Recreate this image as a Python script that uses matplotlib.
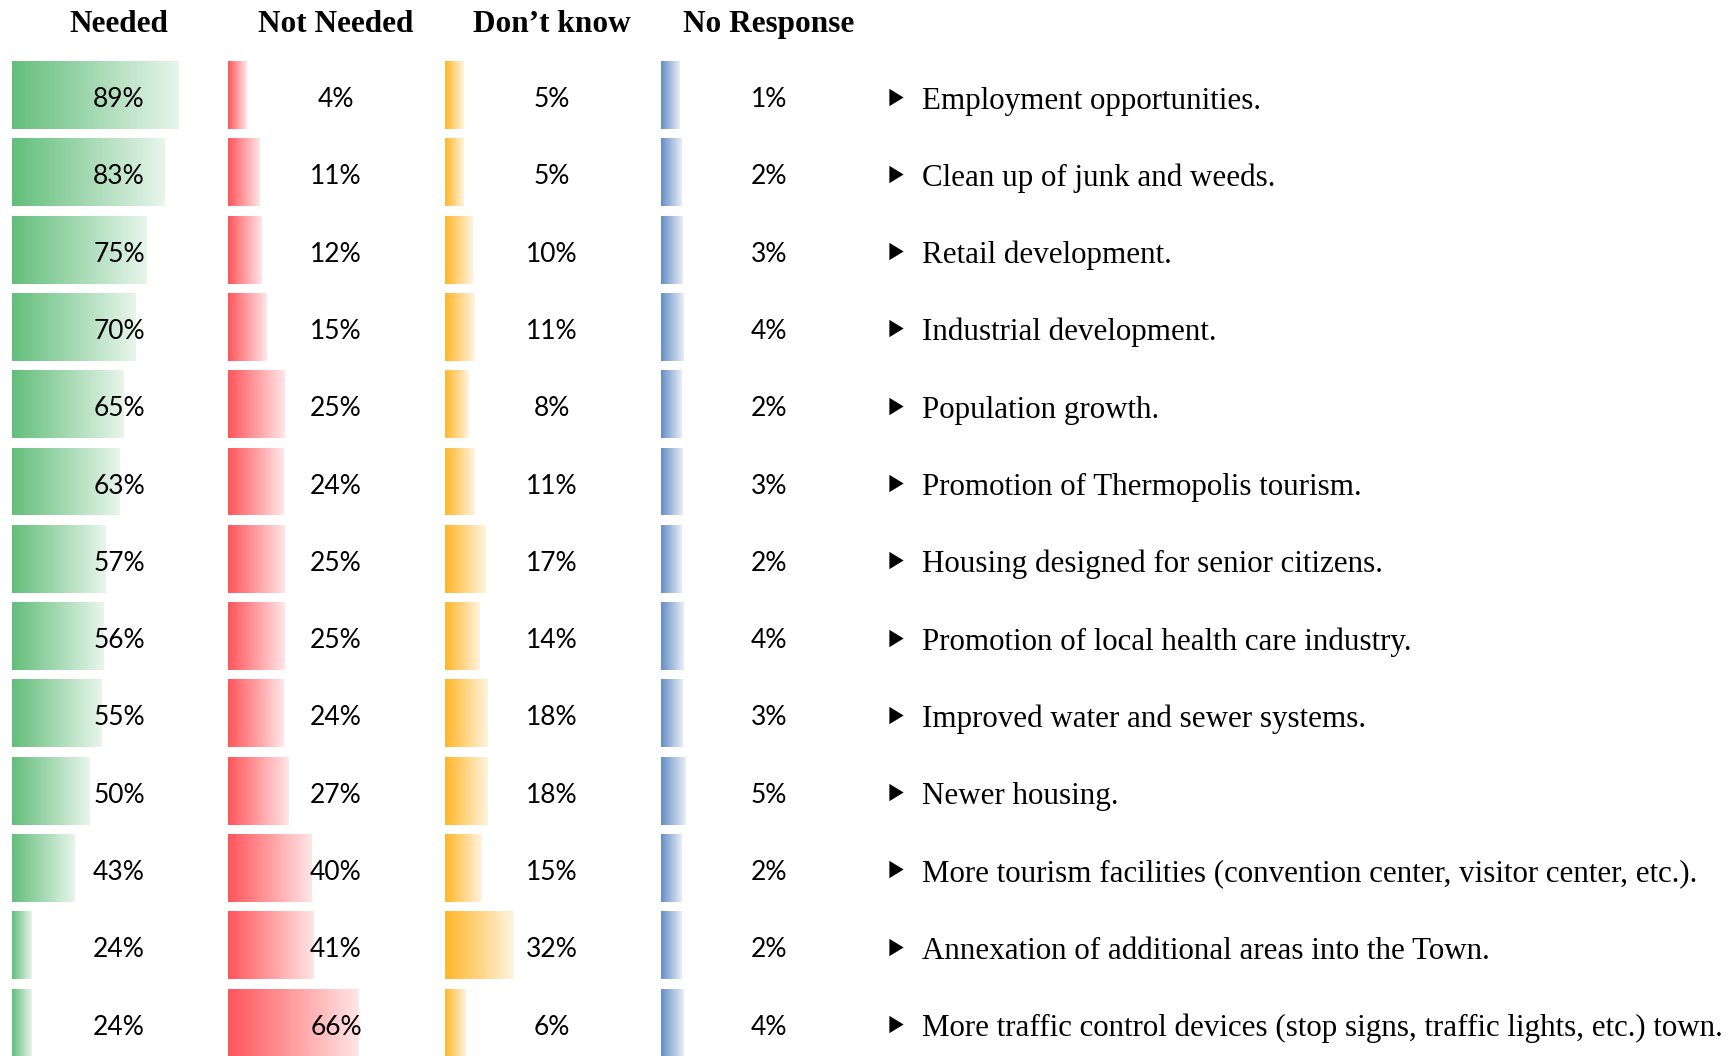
import numpy as np
import matplotlib
matplotlib.use("Agg")
import matplotlib.pyplot as plt
from matplotlib.colors import LinearSegmentedColormap, to_rgb
from matplotlib.transforms import blended_transform_factory
from matplotlib.path import Path

# ---------------- data ----------------
items = [
    "Employment opportunities.",
    "Clean up of junk and weeds.",
    "Retail development.",
    "Industrial development.",
    "Population growth.",
    "Promotion of Thermopolis tourism.",
    "Housing designed for senior citizens.",
    "Promotion of local health care industry.",
    "Improved water and sewer systems.",
    "Newer housing.",
    "More tourism facilities (convention center, visitor center, etc.).",
    "Annexation of additional areas into the Town.",
    "More traffic control devices (stop signs, traffic lights, etc.) town.",
]
headers = ["Needed", "Not Needed", "Don\u2019t know", "No Response"]
needed = [89, 83, 75, 70, 65, 63, 57, 56, 55, 50, 43, 24, 24]
not_needed = [4, 11, 12, 15, 25, 24, 25, 25, 24, 27, 40, 41, 66]
dont_know = [5, 5, 10, 11, 8, 11, 17, 14, 18, 18, 15, 32, 6]
no_response = [1, 2, 3, 4, 2, 3, 2, 4, 3, 5, 2, 2, 4]
series = [needed, not_needed, dont_know, no_response]

# ---------------- style / layout ----------------
W_PX, H_PX, DPI = 1732, 1056, 100
colors = ["#63BE7B", "#FF555A", "#FFB628", "#638EC6"]
bar_left_px = [12, 228, 445, 661]
col_center_px = [119, 336, 552, 769]
# per-column data-bar scale: value giving zero length, pixels per percent point
zero_val = [15.5, -6.5, -4.9, -13.5]
px_per_pt = [2.26, 1.806, 1.85, 1.30]
row0_px, pitch_px, bar_h_px = 95, 77.3, 68
axes_w_px = 205

plt.rcParams["font.family"] = ["Liberation Serif", "DejaVu Serif"]
fig = plt.figure(figsize=(W_PX / DPI, H_PX / DPI), dpi=DPI)
fig.patch.set_facecolor("white")

n = len(items)
y = np.arange(n)
ylim = ((H_PX - row0_px) / pitch_px, -row0_px / pitch_px)
bar_h = bar_h_px / pitch_px

grad = np.linspace(0, 1, 256).reshape(1, -1)
axes = []
for k, vals in enumerate(series):
    ax = fig.add_axes([bar_left_px[k] / W_PX, 0, axes_w_px / W_PX, 1])
    ax.set_axis_off()
    x0 = zero_val[k]
    x1 = x0 + axes_w_px / px_per_pt[k]
    c = to_rgb(colors[k])
    light = tuple(ci + (1 - ci) * 0.85 for ci in c)
    cmap = LinearSegmentedColormap.from_list(f"g{k}", [c, light])
    bars = ax.barh(y, np.array(vals) - x0, left=x0, height=bar_h,
                   color="none", edgecolor="none")
    for b in bars:
        bx, by = b.get_x(), b.get_y()
        bw, bh = b.get_width(), b.get_height()
        im = ax.imshow(grad, extent=[bx, bx + bw, by + bh, by], aspect="auto",
                       cmap=cmap, interpolation="bilinear", zorder=1)
        im.set_clip_path(b)
    ax.set_xlim(x0, x1)
    ax.set_ylim(*ylim)
    # percentage labels centred in the column
    tx = (col_center_px[k] - bar_left_px[k]) / axes_w_px
    trans = blended_transform_factory(ax.transAxes, ax.transData)
    for i, v in enumerate(vals):
        ax.text(tx, i + 12 / pitch_px, f"{v}%", transform=trans, ha="center",
                va="baseline", fontsize=19, family=["Lato", "DejaVu Sans"],
                color="black", zorder=3)
    # header
    fig.text(col_center_px[k] / W_PX, 1 - 32 / H_PX, headers[k], ha="center",
             va="baseline", fontsize=22.5, fontweight="bold", color="black")
    axes.append(ax)

# item labels with triangle bullets
lab_ax = fig.add_axes([0, 0, 1, 1])
lab_ax.set_axis_off()
lab_ax.set_xlim(0, W_PX)
lab_ax.set_ylim(*ylim)
tri = Path([(-0.82, 1.0), (0.82, 0.0), (-0.82, -1.0), (-0.82, 1.0)],
           [Path.MOVETO, Path.LINETO, Path.LINETO, Path.CLOSEPOLY])
lab_ax.scatter(np.full(n, 896), y + 1.5 / pitch_px, marker=tri, s=12.5 ** 2,
               color="black", linewidths=0)
for i, t in enumerate(items):
    lab_ax.text(922, i + 13.5 / pitch_px, t, ha="left", va="baseline",
                fontsize=22.3, color="black")

fig.savefig("out.png", dpi=DPI, facecolor="white")
